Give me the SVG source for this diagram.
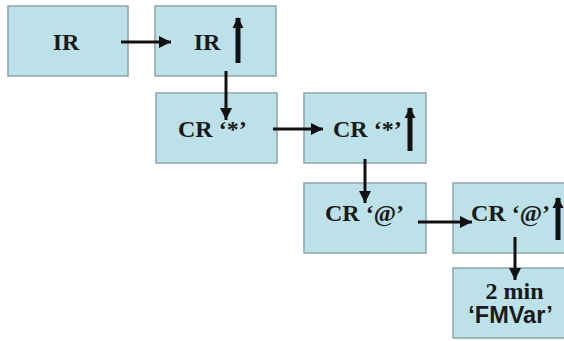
<svg xmlns="http://www.w3.org/2000/svg" width="564" height="341" viewBox="0 0 564 341">
<style>
.box{fill:#bde1e8;stroke:#8fa5aa;stroke-width:1.5}
.t{font-family:"Liberation Serif","Times New Roman",serif;font-weight:bold;font-size:24px;fill:#1a1a1a}
.s{font-family:"Liberation Sans",Arial,sans-serif;font-weight:bold;font-size:23.5px;fill:#1a1a1a}
.c{stroke:#111;stroke-width:3;fill:none}
.up{stroke:#111;stroke-width:5;fill:none}
</style>
<defs>
<marker id="ah" markerUnits="userSpaceOnUse" markerWidth="12" markerHeight="12" refX="10" refY="5" orient="auto" viewBox="0 0 10 10">
<path d="M0,0 L10,5 L0,10 z" fill="#111"/>
</marker>
<marker id="uh" markerUnits="userSpaceOnUse" markerWidth="11" markerHeight="12" refX="10" refY="5.5" orient="auto" viewBox="0 0 11 11">
<path d="M0,0 L11,5.5 L0,11 z" fill="#111"/>
</marker>
</defs>
<rect width="564" height="341" fill="#ffffff"/>
<g id="n1"><rect class="box" x="8" y="6" width="120" height="70"/><text class="t" x="66" y="50" text-anchor="middle">IR</text></g>
<g id="n2"><rect class="box" x="155" y="6" width="121" height="70"/><text class="t" x="207" y="50" text-anchor="middle">IR</text><line class="up" x1="238" y1="63" x2="238" y2="18" marker-end="url(#uh)"/></g>
<g id="n3"><rect class="box" x="156" y="93" width="121" height="70"/><text class="t" x="178" y="137">CR ‘*’</text></g>
<g id="n4"><rect class="box" x="304" y="93" width="122" height="70"/><text class="t" x="333" y="137">CR ‘*’</text><line class="up" x1="410" y1="151" x2="410" y2="108" marker-end="url(#uh)"/></g>
<g id="n5"><rect class="box" x="304" y="183" width="122" height="70"/><text class="t" x="325" y="221">CR ‘@’</text></g>
<g id="n6"><rect class="box" x="453" y="183" width="115" height="70"/><text class="t" x="471" y="221">CR ‘@’</text><line class="up" x1="558" y1="240" x2="558" y2="198" marker-end="url(#uh)"/></g>
<g id="n7"><rect class="box" x="453" y="268" width="115" height="70"/><text class="t" x="514.5" y="299" text-anchor="middle">2 min</text><text class="s" x="510.5" y="323" text-anchor="middle">‘FMVar’</text></g>
<g id="connectors">
<line class="c" x1="121" y1="42" x2="171" y2="42" marker-end="url(#ah)"/>
<line class="c" x1="226" y1="71" x2="226" y2="120" marker-end="url(#ah)"/>
<line class="c" x1="273" y1="129" x2="323" y2="129" marker-end="url(#ah)"/>
<line class="c" x1="365" y1="159" x2="365" y2="203" marker-end="url(#ah)"/>
<line class="c" x1="418" y1="222" x2="472" y2="222" marker-end="url(#ah)"/>
<line class="c" x1="515" y1="237" x2="515" y2="280" marker-end="url(#ah)"/>
</g>
</svg>
